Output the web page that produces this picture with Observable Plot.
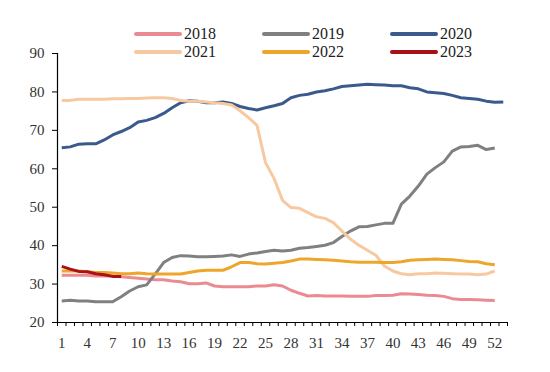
<!DOCTYPE html>
<html>
<head>
<meta charset="utf-8">
<script src="https://cdn.jsdelivr.net/npm/d3@7"></script>
<script src="https://cdn.jsdelivr.net/npm/@observablehq/plot@0.6"></script>
<style>
  body { margin: 0; background: #fff; font-family: "Liberation Serif", serif; }
  #legend { height: 44px; box-sizing: border-box; padding: 24.5px 0 0 134px; display: grid;
    grid-template-columns: repeat(3, 128px); grid-auto-rows: 18.5px; font-size: 16px; color: #222;
    position: relative; z-index: 1; font-family: "Liberation Serif", serif; }
  .item { display: flex; align-items: center; white-space: nowrap; }
  .sw { width: 48px; height: 4px; border-radius: 2px; margin-right: 2px; }
  #chart svg { display: block; }
</style>
</head>
<body>
<div id="legend"></div>
<div id="chart"></div>
<script>
const years = ["2018", "2019", "2020", "2021", "2022", "2023"];
const colors = ["#EB8A90", "#808080", "#3A5A8B", "#F7C9A0", "#EDA52C", "#A8101A"];

const y2018 = [32.3,32.3,32.3,32.3,32.1,32.1,32.1,31.9,31.7,31.5,
  31.3,31.1,31.1,30.8,30.6,30.1,30.1,30.3,29.5,29.3,
  29.3,29.3,29.3,29.5,29.5,29.8,29.5,28.4,27.6,26.9,
  27.0,26.9,26.9,26.9,26.8,26.8,26.8,27.0,27.0,27.1,
  27.5,27.4,27.3,27.1,27.0,26.8,26.2,26.0,26.0,25.9,25.8,25.7];
const y2019 = [25.6,25.8,25.6,25.6,25.4,25.4,25.4,26.7,28.2,29.3,
  29.8,32.6,35.6,36.9,37.4,37.3,37.1,37.1,37.2,37.3,
  37.6,37.2,37.8,38.1,38.5,38.8,38.6,38.8,39.3,39.5,
  39.8,40.1,40.8,42.4,43.8,44.9,45.0,45.4,45.8,45.8,
  50.8,52.9,55.5,58.6,60.3,61.8,64.6,65.7,65.8,66.1,65.0,65.4];
const y2020 = [65.5,65.7,66.4,66.5,66.5,67.5,68.8,69.7,70.7,72.2,
  72.6,73.3,74.4,75.9,77.2,77.7,77.6,77.2,77.2,77.4,
  77.0,76.2,75.7,75.3,75.9,76.4,77.0,78.5,79.1,79.4,
  80.0,80.3,80.8,81.4,81.6,81.8,82.0,81.9,81.8,81.6,
  81.6,81.1,80.8,80.0,79.8,79.6,79.1,78.5,78.3,78.1,77.6,77.3,77.4];
const y2021 = [77.8,77.8,78.1,78.1,78.1,78.1,78.2,78.2,78.3,78.3,
  78.4,78.5,78.5,78.3,77.8,77.6,77.6,77.4,77.2,77.0,
  76.6,75.1,73.3,71.3,61.6,57.5,51.8,49.9,49.7,48.6,
  47.5,47.1,46.0,43.8,41.7,40.1,38.8,37.5,34.7,33.4,
  32.7,32.4,32.7,32.7,32.9,32.8,32.7,32.6,32.6,32.4,32.6,33.4];
const y2022 = [33.4,33.4,33.4,33.2,33.0,33.0,32.9,32.7,32.7,32.9,
  32.7,32.6,32.6,32.6,32.6,33.0,33.4,33.6,33.6,33.6,
  34.5,35.6,35.6,35.3,35.2,35.4,35.6,36.0,36.5,36.5,
  36.4,36.3,36.2,36.0,35.8,35.7,35.7,35.7,35.6,35.6,
  35.8,36.2,36.3,36.4,36.5,36.4,36.3,36.1,35.9,35.8,35.3,35.0];
const y2023 = [34.6,33.9,33.3,33.2,32.7,32.4,32.0,32.0];

const xTickLabels = [1,4,7,10,13,16,19,22,25,28,31,34,37,40,43,46,49,52];
const yTicks = [20,30,40,50,60,70,80,90];
const weekCount = 53;

const series = [y2018, y2019, y2020, y2021, y2022, y2023];
const data = series.flatMap((vals, i) => vals.map((v, j) => ({week: j + 1, value: v, year: years[i]})));
const boundaries = d3.range(0, weekCount + 1).map(i => i + 0.5);

// Legend
const legend = document.getElementById("legend");
years.forEach((y, i) => {
  const it = document.createElement("div");
  it.className = "item";
  it.innerHTML = `<span class="sw" style="background:${colors[i]}"></span><span>${y}</span>`;
  legend.appendChild(it);
});

const chart = Plot.plot({
  width: 550,
  height: 328,
  marginLeft: 57,
  marginRight: 43,
  marginTop: 9,
  marginBottom: 50,
  style: { fontFamily: "Liberation Serif", fontSize: "15px", color: "#333", background: "transparent" },
  x: { domain: [0.5, weekCount + 0.5] },
  y: { domain: [20, 90] },
  color: { domain: years, range: colors },
  marks: [
    Plot.axisY({ ticks: yTicks, tickSize: 5, tickPadding: 8, label: null, stroke: "#000", fill: "#333" }),
    Plot.axisX({ ticks: boundaries, tickFormat: () => "", tickSize: 4, label: null, stroke: "#000" }),
    Plot.axisX({ ticks: xTickLabels, tickSize: 0, tickPadding: 15, label: null, fill: "#333" }),
    Plot.ruleY([20], { stroke: "#000", strokeWidth: 1.2 }),
    Plot.ruleX([0.5], { stroke: "#000", strokeWidth: 1.2 }),
    Plot.line(data, { x: "week", y: "value", z: "year", stroke: "year", strokeWidth: 3, strokeLinejoin: "round", strokeLinecap: "butt" })
  ]
});
document.getElementById("chart").appendChild(chart);
</script>
</body>
</html>
